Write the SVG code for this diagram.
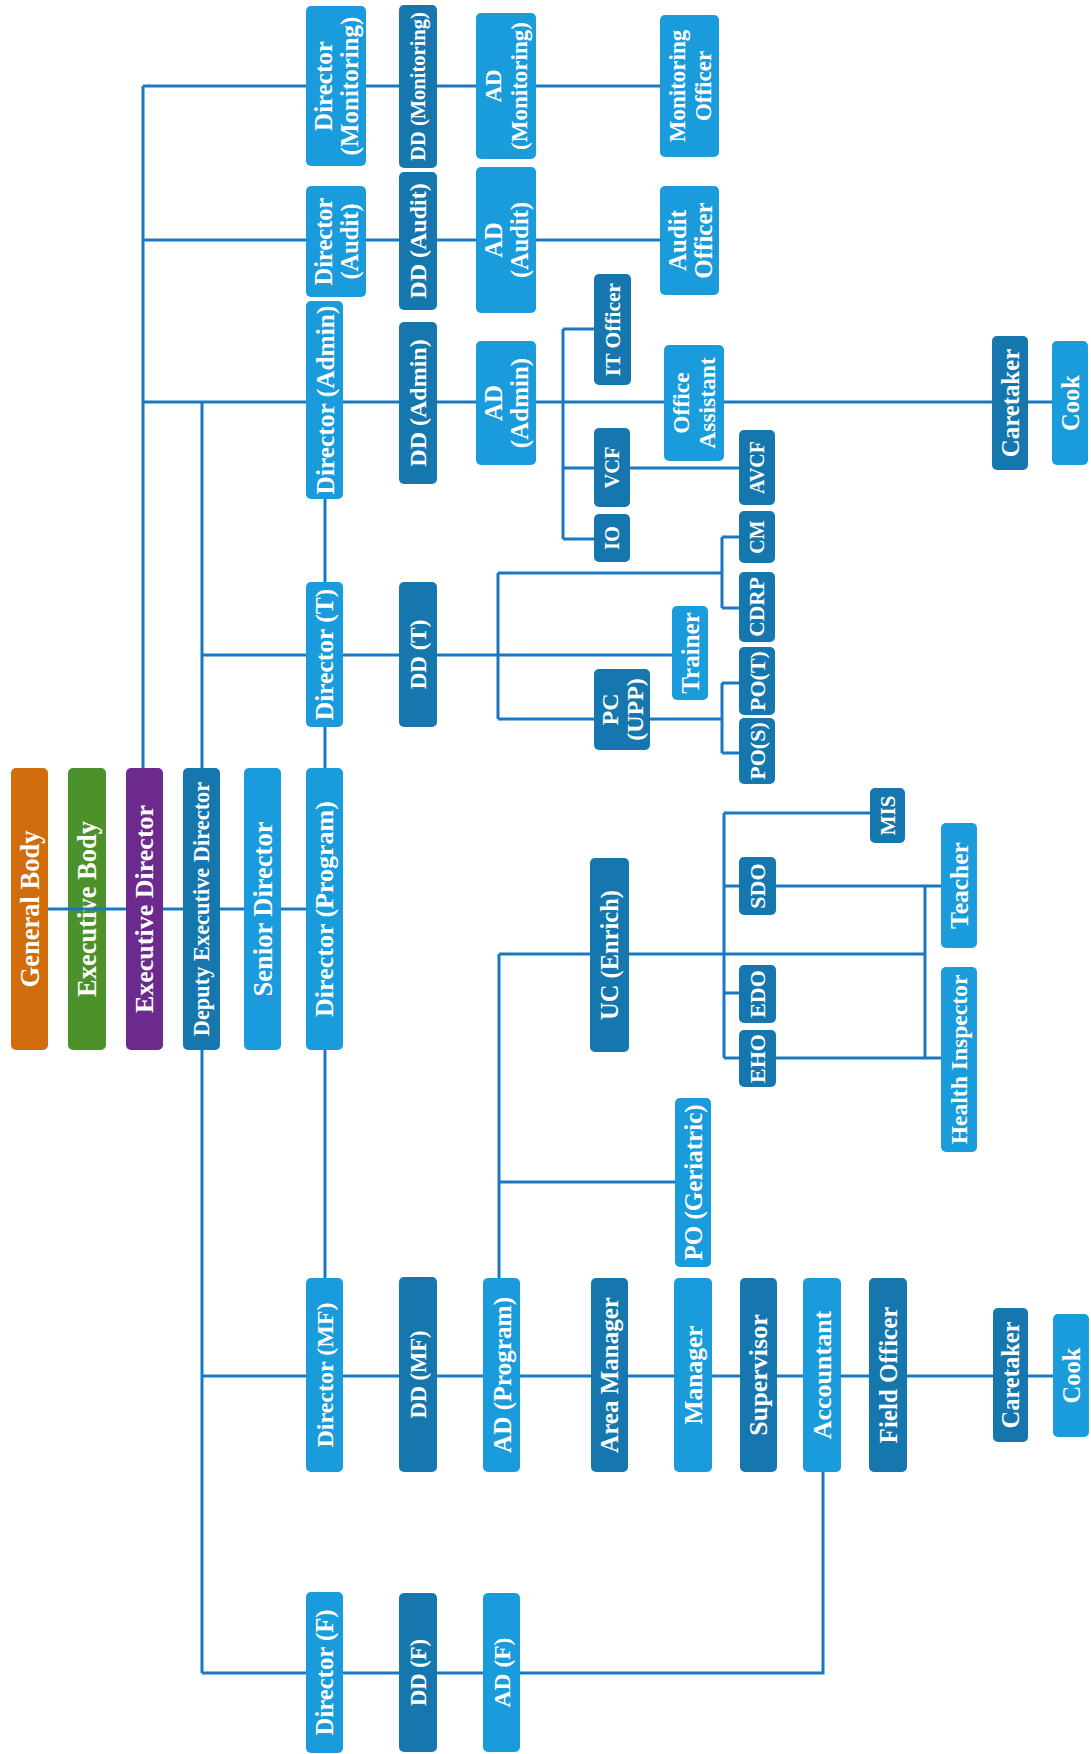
<svg xmlns="http://www.w3.org/2000/svg" width="1091" height="1754" viewBox="0 0 1091 1754">
<style>
rect{rx:5px;ry:5px}
.lt{fill:#1a9bdb}
.dk{fill:#1577ae}
.or{fill:#d16d0c}
.gr{fill:#4c9129}
.pu{fill:#6c2a8d}
text{font-family:"Liberation Serif","Times New Roman",serif;font-weight:bold;fill:#ffffff;text-anchor:middle;dominant-baseline:central;font-size:25px}
.conn path{stroke:#1a78c2;stroke-width:3;fill:none}
</style>
<rect width="1091" height="1754" fill="#ffffff" style="rx:0;ry:0"/>

<g id="executive-body"><rect class="gr" x="68" y="768" width="38" height="282"/><text transform="translate(87,909) rotate(-90)" style="font-size:26.5px">Executive Body</text></g>

<g id="connectors" class="conn">
<path d="M48 909H306"/>
<path d="M143 86V768"/>
<path d="M143 86H660"/>
<path d="M143 240H660"/>
<path d="M143 402H1052"/>
<path d="M202 402V768M202 1050V1673"/>
<path d="M202 655H672"/>
<path d="M325 499V1278"/>
<path d="M563 329V539M563 329H594M563 468H739M563 539H594"/>
<path d="M498 573V719M498 573H722M722 537V608M722 537H739M722 608H739M498 719H722M722 683V753M722 683H739M722 753H739"/>
<path d="M202 1376H1053"/>
<path d="M202 1673H823V1472"/>
<path d="M499 954V1278M499 1182H675M499 954H925"/>
<path d="M724 813V1058M724 813H870M724 886H941M724 993H739M724 1058H941M925 886V1058"/>
</g>

<g id="general-body"><rect class="or" x="11" y="768" width="37" height="282"/><text transform="translate(29.5,909) rotate(-90)" style="font-size:26.5px">General Body</text></g>
<g id="executive-director"><rect class="pu" x="126" y="768" width="37" height="282"/><text transform="translate(144.5,909) rotate(-90)" style="font-size:26px">Executive Director</text></g>
<g id="deputy-executive-director"><rect class="dk" x="183" y="768" width="37" height="282"/><text transform="translate(201.5,909) rotate(-90)" style="font-size:22.4px">Deputy Executive Director</text></g>
<g id="senior-director"><rect class="lt" x="244" y="768" width="37" height="282"/><text transform="translate(262.5,909) rotate(-90)" style="font-size:26.5px">Senior Director</text></g>
<g id="director-program"><rect class="lt" x="306" y="768" width="37" height="282"/><text transform="translate(324.5,909) rotate(-90)" style="font-size:26px">Director (Program)</text></g>

<g id="director-monitoring"><rect class="lt" x="306" y="6" width="60" height="160"/><text transform="translate(336,86) rotate(-90)"><tspan x="0" y="-13">Director</tspan><tspan x="0" y="13">(Monitoring)</tspan></text></g>
<g id="director-audit"><rect class="lt" x="306" y="186" width="60" height="111"/><text transform="translate(336,241.5) rotate(-90)" style="font-size:24.5px"><tspan x="0" y="-13">Director</tspan><tspan x="0" y="13">(Audit)</tspan></text></g>
<g id="director-admin"><rect class="lt" x="306" y="301" width="37" height="198"/><text transform="translate(324.5,400) rotate(-90)" style="font-size:25.4px">Director (Admin)</text></g>
<g id="director-t"><rect class="lt" x="306" y="582" width="37" height="145"/><text transform="translate(324.5,654.5) rotate(-90)" style="font-size:25.5px">Director (T)</text></g>
<g id="director-mf"><rect class="lt" x="306" y="1278" width="37" height="194"/><text transform="translate(324.5,1375) rotate(-90)" style="font-size:24px">Director (MF)</text></g>
<g id="director-f"><rect class="lt" x="306" y="1592" width="37" height="161"/><text transform="translate(324.5,1672.5) rotate(-90)" style="font-size:24.7px">Director (F)</text></g>

<g id="dd-monitoring"><rect class="dk" x="399" y="5" width="38" height="163"/><text transform="translate(418,86.5) rotate(-90)" style="font-size:20.5px">DD (Monitoring)</text></g>
<g id="dd-audit"><rect class="dk" x="399" y="172" width="38" height="138"/><text transform="translate(418,241) rotate(-90)" style="font-size:24px">DD (Audit)</text></g>
<g id="dd-admin"><rect class="dk" x="399" y="322" width="38" height="162"/><text transform="translate(418,403) rotate(-90)" style="font-size:24px">DD (Admin)</text></g>
<g id="dd-t"><rect class="dk" x="399" y="582" width="38" height="145"/><text transform="translate(418,654.5) rotate(-90)" style="font-size:23px">DD (T)</text></g>
<g id="dd-mf"><rect class="dk" x="399" y="1277" width="38" height="195"/><text transform="translate(418,1374.5) rotate(-90)" style="font-size:22.5px">DD (MF)</text></g>
<g id="dd-f"><rect class="dk" x="399" y="1593" width="38" height="159"/><text transform="translate(418,1672.5) rotate(-90)" style="font-size:22.5px">DD (F)</text></g>

<g id="ad-monitoring"><rect class="lt" x="476" y="13" width="60" height="146"/><text transform="translate(506,86) rotate(-90)" style="font-size:23px"><tspan x="0" y="-13">AD</tspan><tspan x="0" y="13">(Monitoring)</tspan></text></g>
<g id="ad-audit"><rect class="lt" x="476" y="167" width="60" height="146"/><text transform="translate(506,240) rotate(-90)" style="font-size:24.5px"><tspan x="0" y="-13">AD</tspan><tspan x="0" y="13">(Audit)</tspan></text></g>
<g id="ad-admin"><rect class="lt" x="476" y="341" width="60" height="124"/><text transform="translate(506,403) rotate(-90)"><tspan x="0" y="-13">AD</tspan><tspan x="0" y="13">(Admin)</tspan></text></g>
<g id="ad-program"><rect class="lt" x="483" y="1278" width="37" height="194"/><text transform="translate(501.5,1375) rotate(-90)" style="font-size:25.3px">AD (Program)</text></g>
<g id="ad-f"><rect class="lt" x="483" y="1593" width="37" height="159"/><text transform="translate(501.5,1672.5) rotate(-90)" style="font-size:23.5px">AD (F)</text></g>

<g id="monitoring-officer"><rect class="lt" x="660" y="15" width="59" height="142"/><text transform="translate(689.5,86) rotate(-90)" style="font-size:23px"><tspan x="0" y="-13">Monitoring</tspan><tspan x="0" y="13">Officer</tspan></text></g>
<g id="audit-officer"><rect class="lt" x="660" y="186" width="59" height="109"/><text transform="translate(689.5,240.5) rotate(-90)"><tspan x="0" y="-13">Audit</tspan><tspan x="0" y="13">Officer</tspan></text></g>
<g id="it-officer"><rect class="dk" x="594" y="274" width="37" height="111"/><text transform="translate(612.5,329.5) rotate(-90)" style="font-size:21.5px">IT Officer</text></g>
<g id="office-assistant"><rect class="lt" x="664" y="345" width="60" height="116"/><text transform="translate(694,403) rotate(-90)" style="font-size:23.5px"><tspan x="0" y="-13">Office</tspan><tspan x="0" y="13">Assistant</tspan></text></g>
<g id="vcf"><rect class="dk" x="594" y="428" width="36" height="79"/><text transform="translate(612,467.5) rotate(-90)" style="font-size:20.5px">VCF</text></g>
<g id="io"><rect class="dk" x="594" y="514" width="36" height="48"/><text transform="translate(612,538) rotate(-90)" style="font-size:20.5px">IO</text></g>
<g id="avcf"><rect class="dk" x="739" y="430" width="36" height="75"/><text transform="translate(757,467.5) rotate(-90)" style="font-size:20px">AVCF</text></g>
<g id="cm"><rect class="dk" x="739" y="511" width="36" height="52"/><text transform="translate(757,537) rotate(-90)" style="font-size:20px">CM</text></g>
<g id="cdrp"><rect class="dk" x="739" y="572" width="36" height="70"/><text transform="translate(757,607) rotate(-90)" style="font-size:21.5px">CDRP</text></g>
<g id="po-t"><rect class="dk" x="739" y="647" width="36" height="68"/><text transform="translate(757,681) rotate(-90)" style="font-size:22px">PO(T)</text></g>
<g id="po-s"><rect class="dk" x="739" y="718" width="36" height="66"/><text transform="translate(757,751) rotate(-90)" style="font-size:22px">PO(S)</text></g>
<g id="trainer"><rect class="lt" x="672" y="606" width="36" height="94"/><text transform="translate(690,653) rotate(-90)">Trainer</text></g>
<g id="pc-upp"><rect class="dk" x="594" y="669" width="56" height="81"/><text transform="translate(622,709.5) rotate(-90)" style="font-size:24px"><tspan x="0" y="-12.5">PC</tspan><tspan x="0" y="12.5">(UPP)</tspan></text></g>
<g id="caretaker-admin"><rect class="dk" x="992" y="336" width="36" height="134"/><text transform="translate(1010,403) rotate(-90)" style="font-size:24.8px">Caretaker</text></g>
<g id="cook-admin"><rect class="lt" x="1052" y="341" width="36" height="124"/><text transform="translate(1070,403) rotate(-90)" style="font-size:24.5px">Cook</text></g>

<g id="uc-enrich"><rect class="dk" x="590" y="858" width="39" height="194"/><text transform="translate(609.5,955) rotate(-90)" style="font-size:24.5px">UC (Enrich)</text></g>
<g id="mis"><rect class="dk" x="870" y="788" width="35" height="55"/><text transform="translate(887.5,815.5) rotate(-90)" style="font-size:21px">MIS</text></g>
<g id="sdo"><rect class="dk" x="739" y="857" width="37" height="58"/><text transform="translate(757.5,886) rotate(-90)" style="font-size:22px">SDO</text></g>
<g id="teacher"><rect class="lt" x="941" y="823" width="36" height="125"/><text transform="translate(959,885.5) rotate(-90)" style="font-size:25.5px">Teacher</text></g>
<g id="edo"><rect class="dk" x="739" y="965" width="37" height="58"/><text transform="translate(757.5,994) rotate(-90)" style="font-size:22px">EDO</text></g>
<g id="eho"><rect class="dk" x="739" y="1030" width="37" height="57"/><text transform="translate(757.5,1058.5) rotate(-90)" style="font-size:22px">EHO</text></g>
<g id="health-inspector"><rect class="lt" x="941" y="967" width="36" height="185"/><text transform="translate(959,1059.5) rotate(-90)" style="font-size:23.6px">Health Inspector</text></g>
<g id="po-geriatric"><rect class="lt" x="675" y="1098" width="36" height="169"/><text transform="translate(693,1182.5) rotate(-90)">PO (Geriatric)</text></g>

<g id="area-manager"><rect class="dk" x="591" y="1278" width="37" height="194"/><text transform="translate(609.5,1375) rotate(-90)">Area Manager</text></g>
<g id="manager"><rect class="lt" x="674" y="1278" width="38" height="194"/><text transform="translate(693,1375) rotate(-90)" style="font-size:25.5px">Manager</text></g>
<g id="supervisor"><rect class="dk" x="740" y="1278" width="37" height="194"/><text transform="translate(758.5,1375) rotate(-90)" style="font-size:26px">Supervisor</text></g>
<g id="accountant"><rect class="lt" x="803" y="1278" width="38" height="194"/><text transform="translate(822,1375) rotate(-90)" style="font-size:26px">Accountant</text></g>
<g id="field-officer"><rect class="dk" x="869" y="1278" width="38" height="194"/><text transform="translate(888,1375) rotate(-90)">Field Officer</text></g>
<g id="caretaker-mf"><rect class="dk" x="993" y="1308" width="35" height="134"/><text transform="translate(1010.5,1375) rotate(-90)" style="font-size:24.5px">Caretaker</text></g>
<g id="cook-mf"><rect class="lt" x="1053" y="1314" width="36" height="123"/><text transform="translate(1071,1375.5) rotate(-90)" style="font-size:24.5px">Cook</text></g>
</svg>
